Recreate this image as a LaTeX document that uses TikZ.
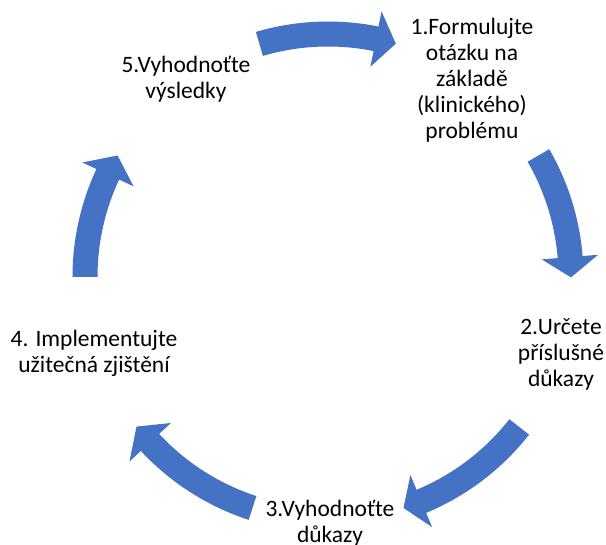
\documentclass[tikz,border=0pt]{standalone}
\usepackage{fontspec}
\setmainfont{Carlito}
\definecolor{cycleblue}{HTML}{4472C4}
\tikzset{
  stage/.style={align=center, font=\fontsize{23.5}{26}\selectfont, inner sep=0pt,
    execute at begin node=\strut, execute at end node=\strut},
}
% curved block arrow on the cycle: tail angle, head base angle, tip angle
\newcommand\cyclearrow[3]{%
  \fill[cycleblue] (#1:255.5pt) arc[start angle=#1, end angle=#2, radius=255.5pt]
    -- (#2:271pt) -- (#3:243pt) -- (#2:214.5pt) -- (#2:230.5pt)
    arc[start angle=#2, end angle=#1, radius=230.5pt] -- cycle;
}
\begin{document}
\begin{tikzpicture}[x=1pt,y=1pt]
  \useasboundingbox (-328,-268) rectangle (278,277);
  % stages
  \node[stage] (s1) at (144,195.2) {1.Formulujte\\otázku na\\základě\\(klinického)\\problému};
  \node[stage] (s2) at (233,-79.8) {2.Určete\\příslušné\\důkazy};
  \node[stage] (s3) at (2,-248.1) {3.Vyhodnoťte\\důkazy};
  \node[stage] (s4) at (-234,-78.1) {4. Implementujte\\užitečná zjištění};
  \node[stage] (s5) at (-142,195.9) {5.Vyhodnoťte\\výsledky};
  % arrows between the stages
  \cyclearrow{106.4}{78.6}{73.8}
  \cyclearrow{30}{4.7}{-0.1}
  \cyclearrow{-38.1}{-67.4}{-71.9}
  \cyclearrow{-108.1}{-137.1}{-142}
  \cyclearrow{180}{155}{150}
\end{tikzpicture}
\end{document}
